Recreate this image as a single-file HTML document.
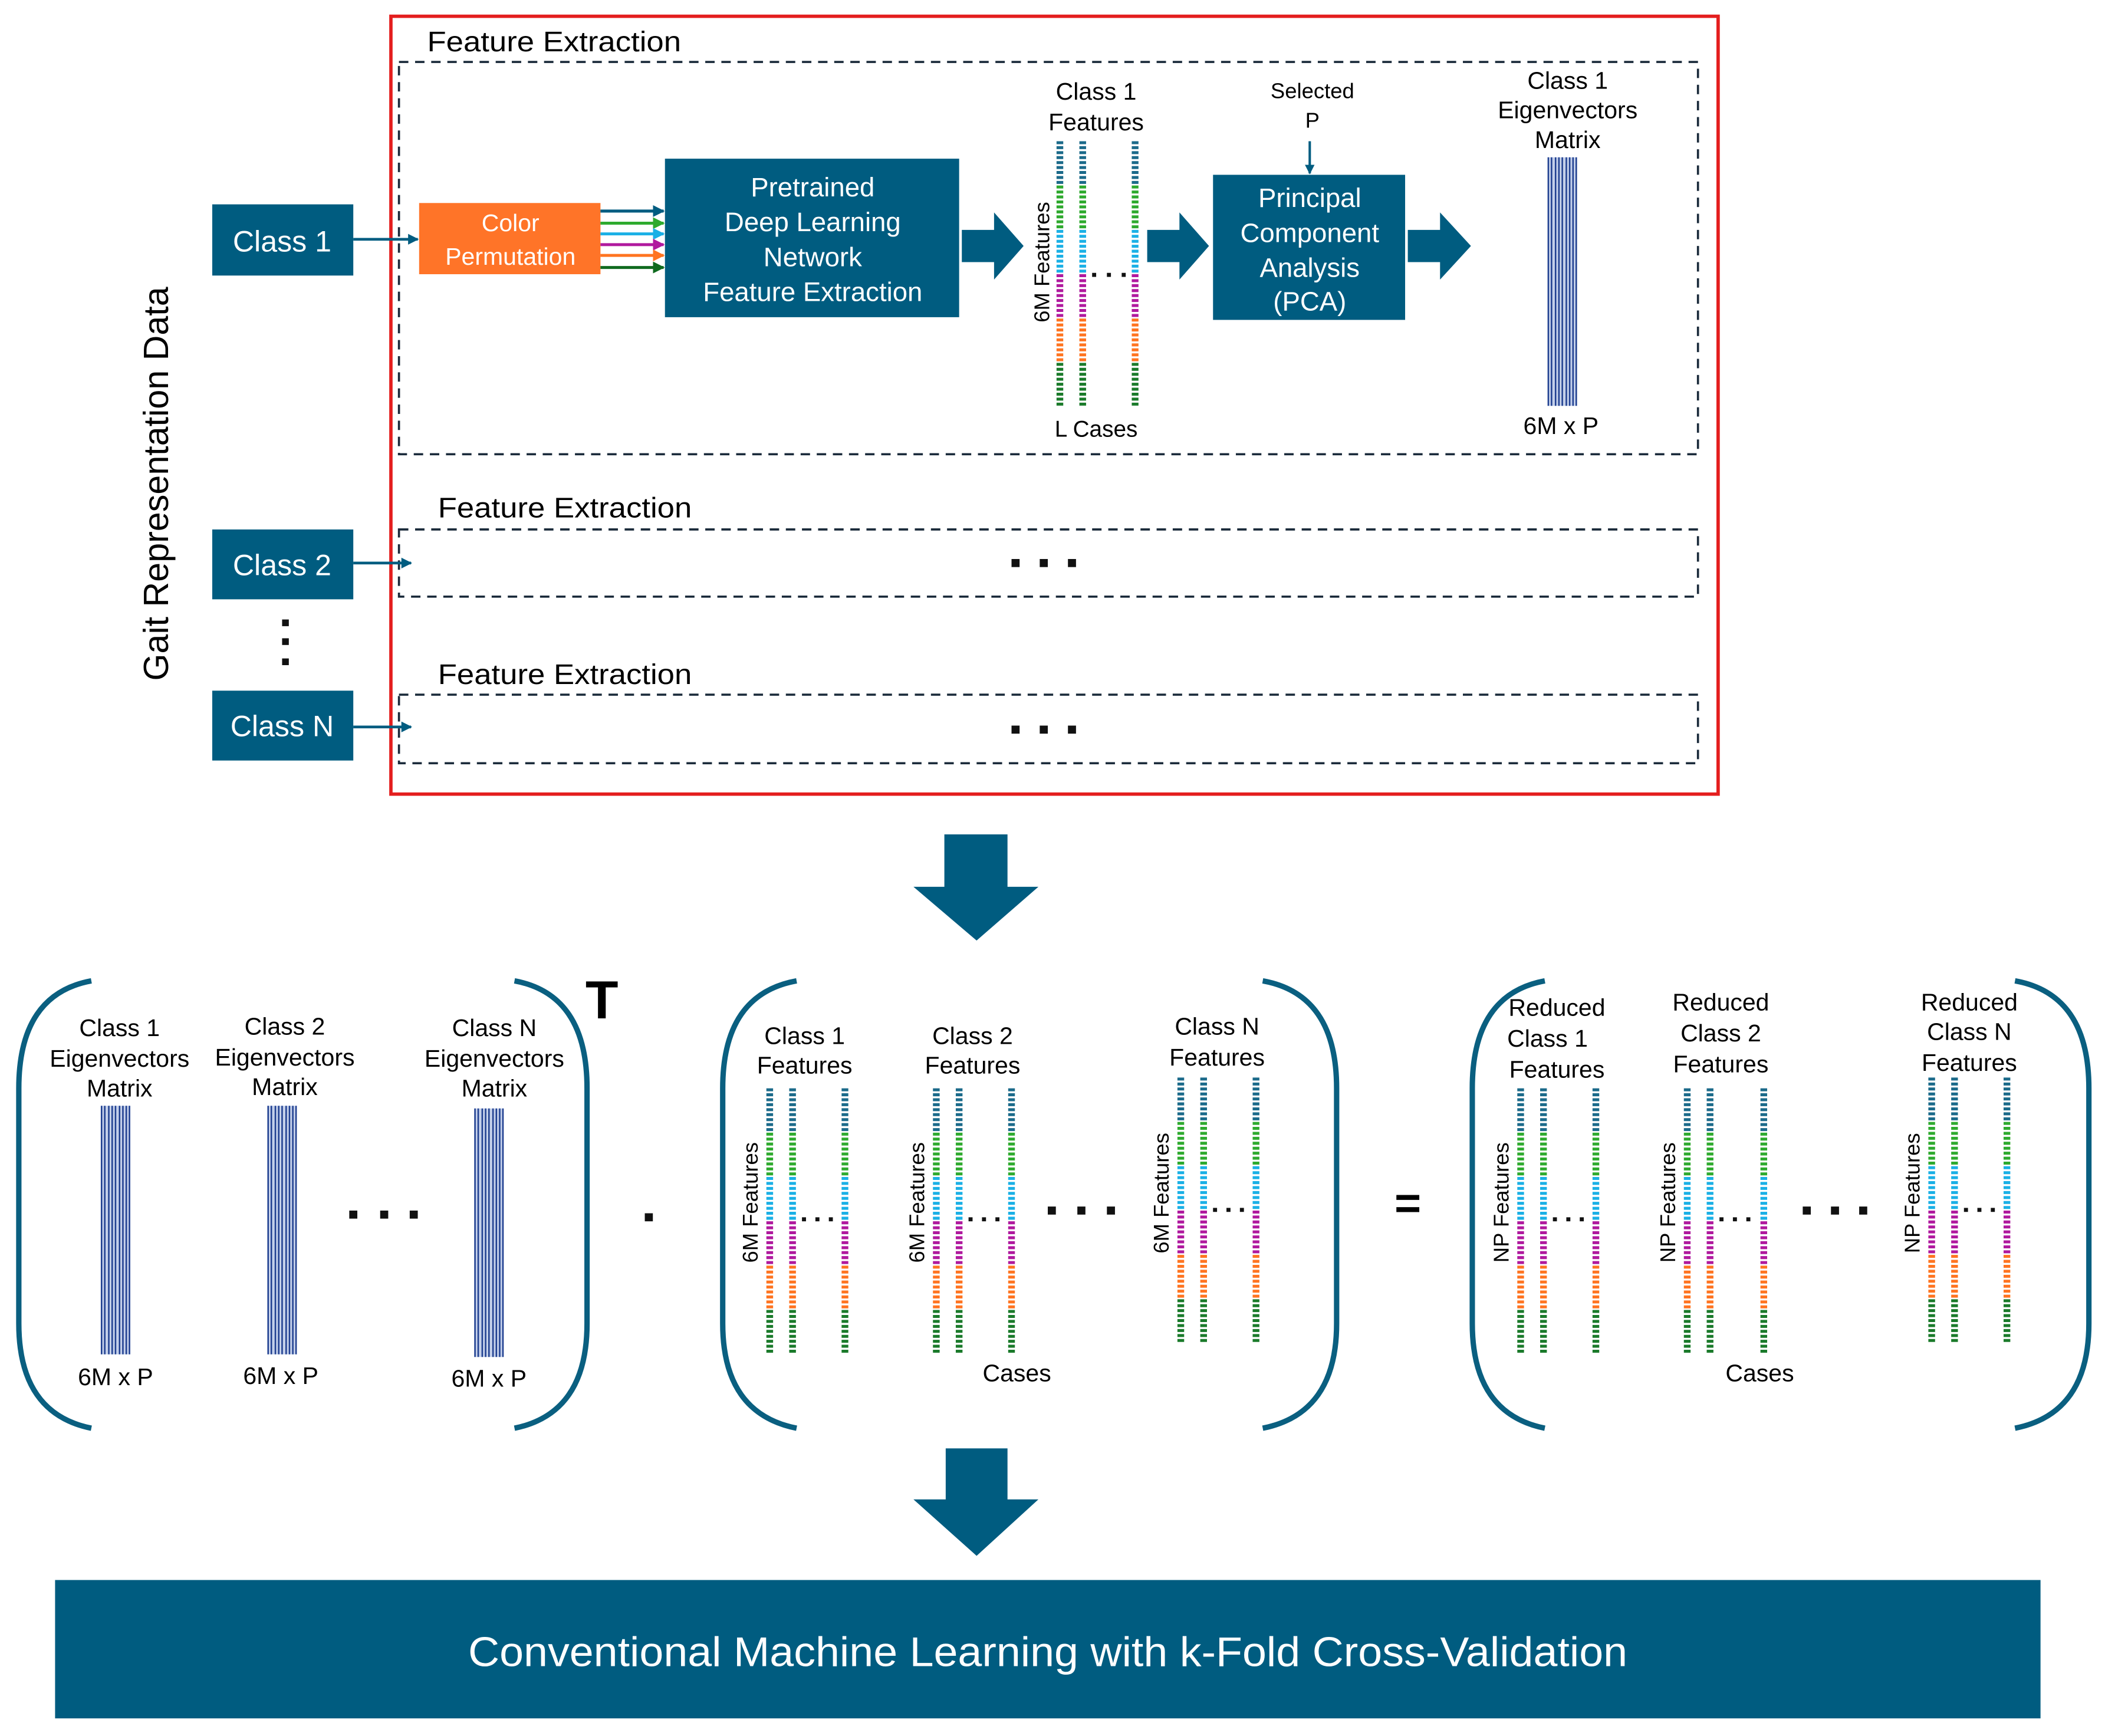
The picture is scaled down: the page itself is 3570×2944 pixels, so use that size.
<!DOCTYPE html>
<html><head><meta charset="utf-8"><style>html,body{margin:0;padding:0;background:#fff}svg{display:block}</style></head>
<body>
<svg xmlns="http://www.w3.org/2000/svg" width="3570" height="2944" viewBox="0 0 1567 1292" font-family="Liberation Sans, sans-serif">
<defs>
<g id="col" stroke-width="5" stroke-dasharray="2.2 1.5" fill="none">
<line x1="0" y1="0" x2="0" y2="33" stroke="#1b6a8a"/>
<line x1="0" y1="33" x2="0" y2="66" stroke="#2eaa2e"/>
<line x1="0" y1="66" x2="0" y2="99" stroke="#1ab0e6"/>
<line x1="0" y1="99" x2="0" y2="132" stroke="#b0199e"/>
<line x1="0" y1="132" x2="0" y2="165" stroke="#ff7420"/>
<line x1="0" y1="165" x2="0" y2="197" stroke="#1a7a2a"/>
</g>
<g id="mat">
<rect x="0" y="0" width="22" height="185" fill="#c4d0ea"/>
<g stroke="#1f3f90" stroke-width="1.1">
<line x1="0.6" y1="0" x2="0.6" y2="185"/><line x1="3" y1="0" x2="3" y2="185"/><line x1="6" y1="0" x2="6" y2="185"/><line x1="8.5" y1="0" x2="8.5" y2="185"/><line x1="11" y1="0" x2="11" y2="185"/><line x1="14" y1="0" x2="14" y2="185"/><line x1="16.5" y1="0" x2="16.5" y2="185"/><line x1="19" y1="0" x2="19" y2="185"/><line x1="21.4" y1="0" x2="21.4" y2="185"/>
</g>
</g>
<marker id="ah" viewBox="0 0 10 10" refX="9" refY="5" markerWidth="4" markerHeight="4" orient="auto"><path d="M0,0 L10,5 L0,10 z" fill="context-stroke"/></marker>
</defs>

<rect x="291" y="12" width="988" height="579" fill="none" stroke="#e41e1e" stroke-width="2.5"/>
<text x="318" y="38" font-size="21" textLength="189" lengthAdjust="spacingAndGlyphs">Feature Extraction</text>
<rect x="297" y="46" width="967" height="292" fill="none" stroke="#1a2a3a" stroke-width="1.6" stroke-dasharray="7 5"/>
<text x="326" y="385" font-size="21" textLength="189" lengthAdjust="spacingAndGlyphs">Feature Extraction</text>
<rect x="297" y="394" width="967" height="50" fill="none" stroke="#1a2a3a" stroke-width="1.6" stroke-dasharray="7 5"/>
<text x="326" y="509" font-size="21" textLength="189" lengthAdjust="spacingAndGlyphs">Feature Extraction</text>
<rect x="297" y="517" width="967" height="51" fill="none" stroke="#1a2a3a" stroke-width="1.6" stroke-dasharray="7 5"/>
<g fill="#111"><rect x="753" y="416" width="6" height="6"/><rect x="774" y="416" width="6" height="6"/><rect x="795" y="416" width="6" height="6"/>
<rect x="753" y="540" width="6" height="6"/><rect x="774" y="540" width="6" height="6"/><rect x="795" y="540" width="6" height="6"/></g>

<text transform="translate(125,360) rotate(-90)" font-size="26" text-anchor="middle">Gait Representation Data</text>

<rect x="158" y="152" width="105" height="53" fill="#005c80"/>
<text x="210" y="187" font-size="22" fill="#fff" text-anchor="middle">Class 1</text>
<rect x="158" y="394" width="105" height="52" fill="#005c80"/>
<text x="210" y="428" font-size="22" fill="#fff" text-anchor="middle">Class 2</text>
<rect x="158" y="514" width="105" height="52" fill="#005c80"/>
<text x="210" y="548" font-size="22" fill="#fff" text-anchor="middle">Class N</text>
<g fill="#111"><rect x="210" y="461" width="5" height="5"/><rect x="210" y="475" width="5" height="5"/><rect x="210" y="490" width="5" height="5"/></g>

<g stroke="#005c80" stroke-width="2" marker-end="url(#ah)">
<line x1="263" y1="178" x2="311" y2="178"/>
<line x1="263" y1="419" x2="306" y2="419"/>
<line x1="263" y1="541" x2="306" y2="541"/>
</g>

<rect x="312" y="151" width="135" height="53" fill="#ff7428"/>
<text x="380" y="172" font-size="18" fill="#fff" text-anchor="middle">Color</text>
<text x="380" y="197" font-size="18" fill="#fff" text-anchor="middle">Permutation</text>
<g stroke-width="2.2" marker-end="url(#ah)">
<line x1="447" y1="157" x2="494" y2="157" stroke="#005c80"/>
<line x1="447" y1="166" x2="494" y2="166" stroke="#2eaa2e"/>
<line x1="447" y1="174" x2="494" y2="174" stroke="#1ab0e6"/>
<line x1="447" y1="182" x2="494" y2="182" stroke="#b0199e"/>
<line x1="447" y1="190" x2="494" y2="190" stroke="#ff7420"/>
<line x1="447" y1="199" x2="494" y2="199" stroke="#0f6a1e"/>
</g>

<rect x="495" y="118" width="219" height="118" fill="#005c80"/>
<g font-size="20" fill="#fff" text-anchor="middle">
<text x="605" y="146">Pretrained</text>
<text x="605" y="172">Deep Learning</text>
<text x="605" y="198">Network</text>
<text x="605" y="224">Feature Extraction</text>
</g>

<g fill="#005c80">
<path d="M716,171 L740,171 L740,158 L762,183 L740,208 L740,195 L716,195 z"/>
<path d="M854,171 L878,171 L878,158 L900,183 L878,208 L878,195 L854,195 z"/>
<path d="M1048,171 L1072,171 L1072,158 L1095,183 L1072,208 L1072,195 L1048,195 z"/>
<path d="M703,621 L750,621 L750,660 L773,660 L727,700 L680,660 L703,660 z"/>
<path d="M704,1078 L750,1078 L750,1116 L773,1116 L727,1158 L680,1116 L704,1116 z"/>
</g>

<text x="816" y="74" font-size="18" text-anchor="middle">Class 1</text>
<text x="816" y="97" font-size="18" text-anchor="middle">Features</text>
<use href="#col" x="789" y="105"/><use href="#col" x="806" y="105"/><use href="#col" x="845" y="105"/>
<g fill="#111"><rect x="813" y="203" width="3" height="3"/><rect x="824" y="203" width="3" height="3"/><rect x="835" y="203" width="3" height="3"/></g>
<text transform="translate(781,195) rotate(-90)" font-size="16" text-anchor="middle">6M Features</text>
<text x="816" y="325" font-size="17" text-anchor="middle">L Cases</text>

<text x="977" y="73" font-size="16" text-anchor="middle">Selected</text>
<text x="977" y="95" font-size="16" text-anchor="middle">P</text>
<line x1="975" y1="105" x2="975" y2="129" stroke="#005c80" stroke-width="1.8" marker-end="url(#ah)"/>
<rect x="903" y="130" width="143" height="108" fill="#005c80"/>
<g font-size="20" fill="#fff" text-anchor="middle">
<text x="975" y="154">Principal</text>
<text x="975" y="180">Component</text>
<text x="975" y="206">Analysis</text>
<text x="975" y="231">(PCA)</text>
</g>

<g font-size="18" text-anchor="middle">
<text x="1167" y="66">Class 1</text>
<text x="1167" y="88">Eigenvectors</text>
<text x="1167" y="110">Matrix</text>
<text x="1162" y="323">6M x P</text>
</g>
<use href="#mat" x="1152" y="117"/>

<g fill="none" stroke="#0a5f80" stroke-width="4">
<path d="M68,730 Q14,740 14,810 L14,985 Q14,1052 68,1063"/>
<path d="M383,730 Q437,740 437,810 L437,985 Q437,1052 383,1063"/>
<path d="M593,730 Q538,740 538,810 L538,985 Q538,1052 593,1063"/>
<path d="M940,730 Q995,740 995,810 L995,985 Q995,1052 940,1063"/>
<path d="M1150,730 Q1096,740 1096,810 L1096,985 Q1096,1052 1150,1063"/>
<path d="M1500,730 Q1555,740 1555,810 L1555,985 Q1555,1052 1500,1063"/>
</g>
<text x="448" y="758" font-size="40" font-weight="bold" text-anchor="middle">T</text>

<g font-size="18" text-anchor="middle">
<text x="89" y="771">Class 1</text><text x="89" y="794">Eigenvectors</text><text x="89" y="816">Matrix</text>
<text x="212" y="770">Class 2</text><text x="212" y="793">Eigenvectors</text><text x="212" y="815">Matrix</text>
<text x="368" y="771">Class N</text><text x="368" y="794">Eigenvectors</text><text x="368" y="816">Matrix</text>
<text x="86" y="1031">6M x P</text><text x="209" y="1030">6M x P</text><text x="364" y="1032">6M x P</text>
</g>
<use href="#mat" x="75" y="823"/><use href="#mat" x="199" y="823"/><use href="#mat" x="353" y="825"/>
<g fill="#111"><rect x="260" y="901" width="6" height="6"/><rect x="283" y="901" width="6" height="6"/><rect x="305" y="901" width="6" height="6"/></g>
<rect x="480" y="903" width="6" height="6" fill="#111"/>

<g font-size="18" text-anchor="middle">
<text x="599" y="777">Class 1</text><text x="599" y="799">Features</text>
<text x="724" y="777">Class 2</text><text x="724" y="799">Features</text>
<text x="906" y="770">Class N</text><text x="906" y="793">Features</text>
<text x="757" y="1028">Cases</text>
</g>
<use href="#col" x="573" y="810"/><use href="#col" x="590" y="810"/><use href="#col" x="629" y="810"/>
<use href="#col" x="697" y="810"/><use href="#col" x="714" y="810"/><use href="#col" x="753" y="810"/>
<use href="#col" x="879" y="802"/><use href="#col" x="896" y="802"/><use href="#col" x="935" y="802"/>
<g font-size="16" text-anchor="middle">
<text transform="translate(564,895) rotate(-90)">6M Features</text>
<text transform="translate(688,895) rotate(-90)">6M Features</text>
<text transform="translate(870,888) rotate(-90)">6M Features</text>
<text transform="translate(1123,895) rotate(-90)">NP Features</text>
<text transform="translate(1247,895) rotate(-90)">NP Features</text>
<text transform="translate(1429,888) rotate(-90)">NP Features</text>
</g>
<g fill="#111">
<rect x="597" y="906" width="3" height="3"/><rect x="607" y="906" width="3" height="3"/><rect x="617" y="906" width="3" height="3"/>
<rect x="721" y="906" width="3" height="3"/><rect x="731" y="906" width="3" height="3"/><rect x="741" y="906" width="3" height="3"/>
<rect x="903" y="899" width="3" height="3"/><rect x="913" y="899" width="3" height="3"/><rect x="923" y="899" width="3" height="3"/>
<rect x="780" y="898" width="6" height="6"/><rect x="802" y="898" width="6" height="6"/><rect x="824" y="898" width="6" height="6"/>
<rect x="1342" y="898" width="6" height="6"/><rect x="1363" y="898" width="6" height="6"/><rect x="1384" y="898" width="6" height="6"/>
<rect x="1156" y="906" width="3" height="3"/><rect x="1166" y="906" width="3" height="3"/><rect x="1176" y="906" width="3" height="3"/>
<rect x="1280" y="906" width="3" height="3"/><rect x="1290" y="906" width="3" height="3"/><rect x="1300" y="906" width="3" height="3"/>
<rect x="1462" y="899" width="3" height="3"/><rect x="1472" y="899" width="3" height="3"/><rect x="1482" y="899" width="3" height="3"/>
</g>
<text x="1048" y="907" font-size="34" font-weight="bold" text-anchor="middle">=</text>

<g font-size="18" text-anchor="middle">
<text x="1159" y="756">Reduced</text><text x="1152" y="779">Class 1</text><text x="1159" y="802">Features</text>
<text x="1281" y="752">Reduced</text><text x="1281" y="775">Class 2</text><text x="1281" y="798">Features</text>
<text x="1466" y="752">Reduced</text><text x="1466" y="774">Class N</text><text x="1466" y="797">Features</text>
<text x="1310" y="1028">Cases</text>
</g>
<use href="#col" x="1132" y="810"/><use href="#col" x="1149" y="810"/><use href="#col" x="1188" y="810"/>
<use href="#col" x="1256" y="810"/><use href="#col" x="1273" y="810"/><use href="#col" x="1313" y="810"/>
<use href="#col" x="1438" y="802"/><use href="#col" x="1455" y="802"/><use href="#col" x="1494" y="802"/>

<rect x="41" y="1176" width="1478" height="103" fill="#005c80"/>
<text x="780" y="1240" font-size="31" fill="#fff" text-anchor="middle" textLength="863" lengthAdjust="spacingAndGlyphs">Conventional Machine Learning with k-Fold Cross-Validation</text>
</svg>
</body></html>
